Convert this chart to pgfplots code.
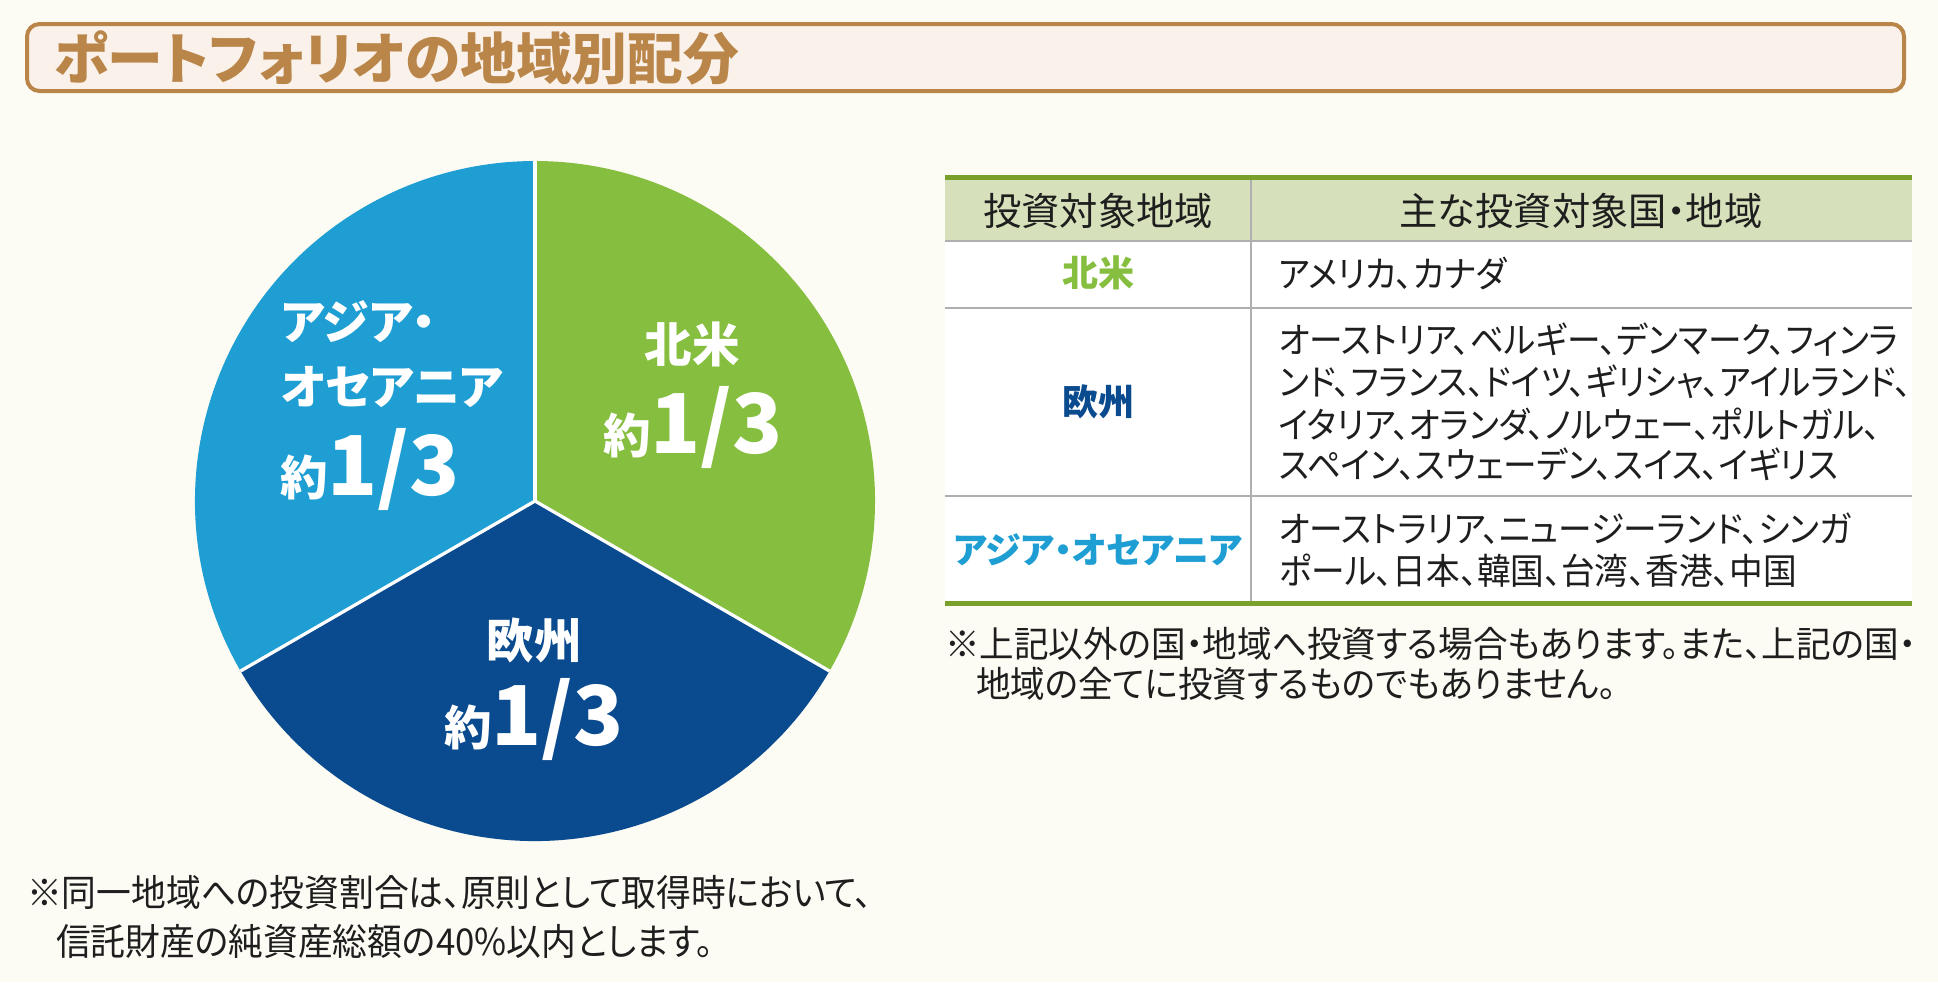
\documentclass[border=0pt]{standalone}
\usepackage{pgfplots}
\pgfplotsset{compat=1.18}
\usepackage{pgfplotstable}
\usepackage{fontspec}
\setmainfont{Noto Sans CJK JP}[RawFeature=+palt]
\newfontfamily\bodyf{Noto Sans CJK JP}[RawFeature=+palt, FakeStretch=0.935]
\newfontfamily\notef{Noto Sans CJK JP}[RawFeature=+palt, FakeStretch=0.96]
\newfontfamily\notebf{Noto Sans CJK JP}[RawFeature=+palt, FakeStretch=0.94]
\definecolor{bg}{HTML}{FCFBF4}
\definecolor{titlefill}{HTML}{FAF2EA}
\definecolor{tbrown}{HTML}{B98549}
\definecolor{cNA}{HTML}{86BE40}
\definecolor{cEU}{HTML}{0A4A8E}
\definecolor{cAS}{HTML}{1E9ED3}
\definecolor{hdr}{HTML}{D6E1BB}
\definecolor{tgreen}{HTML}{7AA02C}
\definecolor{tgray}{HTML}{AFAFAF}
\definecolor{txt}{HTML}{1E1E1E}

\pgfplotstableread{
region share
NorthAmerica 33.333
Europe 33.333
AsiaOceania 33.334
}\pietable

\newcommand{\fs}[1]{\fontsize{#1}{#1}\selectfont}

\begin{document}%
\begin{tikzpicture}
\pgfplotstablegetelem{0}{share}\of\pietable \let\sNA\pgfplotsretval
\pgfplotstablegetelem{1}{share}\of\pietable \let\sEU\pgfplotsretval
\pgfplotstablegetelem{2}{share}\of\pietable \let\sAS\pgfplotsretval
\pgfmathsetmacro\aA{90}
\pgfmathsetmacro\aB{\aA-3.6*\sNA}
\pgfmathsetmacro\aC{\aB-3.6*\sEU}
\pgfmathsetmacro\aD{\aC-3.6*\sAS}
\begin{scope}[x=0.4pt,y=-0.4pt]
\fill[bg] (0,0) rectangle (1938,982);
\end{scope}

\begin{axis}[at={(214pt,-200.4pt)}, anchor=center, scale only axis,
  width=272pt, height=272pt, xmin=-1, xmax=1, ymin=-1, ymax=1,
  hide axis, clip=false]
\fill[cNA] (0,0) -- ({cos(\aA)},{sin(\aA)}) arc[start angle=\aA, end angle=\aB, radius=136pt] -- cycle;
\fill[cEU] (0,0) -- ({cos(\aB)},{sin(\aB)}) arc[start angle=\aB, end angle=\aC, radius=136pt] -- cycle;
\fill[cAS] (0,0) -- ({cos(\aC)},{sin(\aC)}) arc[start angle=\aC, end angle=\aD, radius=136pt] -- cycle;
\draw[white, line width=1.3pt] (0,0) -- ({cos(\aA)},{sin(\aA)});
\draw[white, line width=1.3pt] (0,0) -- ({cos(\aB)},{sin(\aB)});
\draw[white, line width=1.3pt] (0,0) -- ({cos(\aC)},{sin(\aC)});
\end{axis}

\begin{scope}[x=0.4pt,y=-0.4pt, every node/.style={inner sep=0pt, outer sep=0pt}]
% title
\draw[tbrown, line width=1.6pt, fill=titlefill, rounded corners=5pt] (27,24) rectangle (1904,91);
\node[anchor=west, text=tbrown, font=\bfseries\fs{22.3pt}] at (54,58) {ポートフォリオの地域別配分};

% pie labels
\node[anchor=base, text=white, font=\bfseries\fs{19pt}] at (692,362) {北米};
\node[anchor=base, text=white, font=\bfseries] at (693,453) {\fs{19pt}約\fs{33pt}1/3};
\node[anchor=base, text=white, font=\bfseries\fs{19pt}] at (534,658) {欧州};
\node[anchor=base, text=white, font=\bfseries] at (534,745) {\fs{19pt}約\fs{33pt}1/3};
\node[anchor=base west, text=white, font=\bfseries\fs{18.8pt}] at (281,339) {アジア・};
\node[anchor=base west, text=white, font=\bfseries\fs{18.8pt}] at (281,404) {オセアニア};
\node[anchor=base west, text=white, font=\bfseries] at (280,495) {\fs{19pt}約\fs{33pt}1/3};

% table
\fill[hdr] (945,177) rectangle (1912,241);
\fill[white] (945,241) rectangle (1912,603);
\draw[tgray, line width=0.8pt] (945,241) -- (1912,241);
\draw[tgray, line width=0.8pt] (945,308) -- (1912,308);
\draw[tgray, line width=0.8pt] (945,496) -- (1912,496);
\draw[tgray, line width=0.8pt] (1251,177) -- (1251,603);
\draw[tgreen, line width=2pt] (945,177) -- (1912,177);
\draw[tgreen, line width=2pt] (945,603) -- (1912,603);

\node[text=txt, font=\fs{15.3pt}] at (1098,211) {投資対象地域};
\node[text=txt, font=\fs{15.3pt}] at (1581,211) {主な投資対象国・地域};

\node[text=cNA, font=\bfseries\fs{14.4pt}] at (1098,273) {北米};
\node[text=cEU, font=\bfseries\fs{14.4pt}] at (1098,402) {欧州};
\node[text=cAS, font=\bfseries\fs{14.4pt}] at (1098,550) {アジア・オセアニア};

\begin{scope}[every node/.append style={anchor=west, text=txt, font=\bodyf\fs{14.4pt}}]
\node at (1279,273) {アメリカ、カナダ};
\node at (1279,340) {オーストリア、ベルギー、デンマーク、フィンラ};
\node at (1279,382) {ンド、フランス、ドイツ、ギリシャ、アイルランド、};
\node at (1279,424) {イタリア、オランダ、ノルウェー、ポルトガル、};
\node at (1279,464) {スペイン、スウェーデン、スイス、イギリス};
\node at (1279,529) {オーストラリア、ニュージーランド、シンガ};
\node at (1279,571) {ポール、日本、韓国、台湾、香港、中国};
\end{scope}
\begin{scope}[every node/.append style={anchor=west, text=txt, font=\notef\fs{14.4pt}}]
\node at (945,644) {※上記以外の国・地域へ投資する場合もあります。また、上記の国・};
\node at (976,684) {地域の全てに投資するものでもありません。};
\end{scope}

\begin{scope}[every node/.append style={anchor=west, text=txt, font=\notebf\fs{14.8pt}}]
\node at (27,892) {※同一地域への投資割合は、原則として取得時において、};
\node at (56,941) {信託財産の純資産総額の40\%以内とします。};
\end{scope}
\end{scope}
\end{tikzpicture}%
\end{document}
